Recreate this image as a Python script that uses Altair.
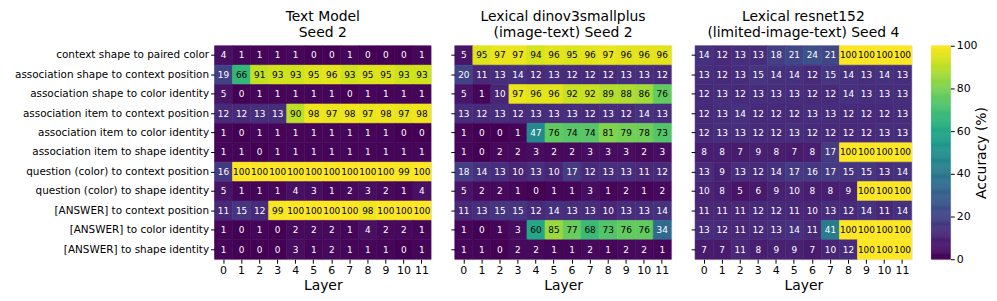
import altair as alt
import pandas as pd

rows = [
    "context shape to paired color",
    "association shape to context position",
    "association shape to color identity",
    "association item to context position",
    "association item to color identity",
    "association item to shape identity",
    "question (color) to context position",
    "question (color) to shape identity",
    "[ANSWER] to context position",
    "[ANSWER] to color identity",
    "[ANSWER] to shape identity",
]
layers = list(range(12))

text_model = [
    [4, 1, 1, 1, 1, 0, 0, 1, 0, 0, 0, 1],
    [19, 66, 91, 93, 93, 95, 96, 93, 95, 95, 93, 93],
    [5, 0, 1, 1, 1, 1, 1, 0, 1, 1, 1, 1],
    [12, 12, 13, 13, 90, 98, 97, 98, 97, 98, 97, 98],
    [1, 0, 1, 1, 1, 1, 1, 1, 1, 1, 0, 0],
    [1, 1, 0, 1, 1, 1, 1, 1, 1, 1, 1, 1],
    [16, 100, 100, 100, 100, 100, 100, 100, 100, 100, 99, 100],
    [5, 1, 1, 1, 4, 3, 1, 2, 3, 2, 1, 4],
    [11, 15, 12, 99, 100, 100, 100, 100, 98, 100, 100, 100],
    [1, 0, 1, 0, 2, 2, 2, 1, 4, 2, 2, 1],
    [1, 0, 0, 0, 3, 1, 2, 1, 1, 1, 0, 1],
]
dinov3 = [
    [5, 95, 97, 97, 94, 96, 95, 96, 97, 96, 96, 96],
    [20, 11, 13, 14, 12, 13, 12, 12, 12, 13, 13, 12],
    [5, 1, 10, 97, 96, 96, 92, 92, 89, 88, 86, 76],
    [13, 12, 13, 12, 13, 13, 13, 12, 13, 12, 14, 13],
    [1, 0, 0, 1, 47, 76, 74, 74, 81, 79, 78, 73],
    [1, 0, 2, 2, 3, 2, 2, 3, 3, 3, 2, 3],
    [18, 14, 13, 10, 13, 10, 17, 12, 13, 13, 11, 12],
    [5, 2, 2, 1, 0, 1, 1, 3, 1, 2, 1, 2],
    [11, 13, 15, 15, 12, 14, 13, 13, 10, 13, 13, 14],
    [1, 0, 1, 3, 60, 85, 77, 68, 73, 76, 76, 34],
    [1, 1, 0, 2, 2, 1, 1, 2, 1, 2, 2, 1],
]
resnet = [
    [14, 12, 13, 13, 18, 21, 24, 21, 100, 100, 100, 100],
    [13, 12, 13, 15, 14, 14, 12, 15, 14, 13, 14, 13],
    [12, 13, 12, 13, 13, 13, 12, 12, 14, 13, 13, 13],
    [12, 13, 14, 12, 12, 12, 13, 13, 12, 12, 12, 13],
    [12, 13, 13, 12, 12, 13, 12, 12, 12, 12, 13, 13],
    [8, 8, 7, 9, 8, 7, 8, 17, 100, 100, 100, 100],
    [13, 9, 13, 12, 14, 17, 16, 17, 15, 15, 13, 14],
    [10, 8, 5, 6, 9, 10, 8, 8, 9, 100, 100, 100],
    [11, 11, 11, 12, 12, 11, 10, 13, 12, 14, 11, 14],
    [13, 12, 11, 12, 13, 14, 11, 41, 100, 100, 100, 100],
    [7, 7, 11, 8, 9, 9, 7, 10, 12, 100, 100, 100],
]

titles = [
    ["Text Model", "Seed 2"],
    ["Lexical dinov3smallplus", "(image-text) Seed 2"],
    ["Lexical resnet152", "(limited-image-text) Seed 4"],
]
colorbar_title = "Accuracy (%)"
colorbar_ticks = [0, 20, 40, 60, 80, 100]
matrices = [text_model, dinov3, resnet]

FONT = "DejaVu Sans"
W, H = 218, 215
COLOR_SCALE = alt.Scale(scheme="viridis", domain=[0, 100])


def make_df(mat):
    recs = []
    for r, row in zip(rows, mat):
        for l, v in zip(layers, row):
            recs.append({"row": r, "layer": l, "value": v})
    return pd.DataFrame(recs)


def panel(mat, title, idx):
    df = make_df(mat)
    base = alt.Chart(df)
    y_axis = alt.Axis(
        title=None,
        labels=(idx == 0),
        ticks=True,
        tickSize=4,
        tickColor="black",
        domain=False,
        labelFontSize=10.5,
        labelColor="black",
        labelFont=FONT,
        labelPadding=2,
        labelLimit=400,
    )
    x_axis = alt.Axis(
        title="Layer",
        labelAngle=0,
        tickSize=4,
        tickColor="black",
        domain=False,
        labelFontSize=11,
        labelColor="black",
        labelFont=FONT,
        labelPadding=1,
        titleFontSize=14,
        titleFont=FONT,
        titleFontWeight="normal",
        titleColor="black",
        titlePadding=3,
    )
    rect = base.mark_rect(strokeWidth=0.6).encode(
        x=alt.X("layer:O", axis=x_axis, sort=layers),
        y=alt.Y("row:N", axis=y_axis, sort=rows),
        color=alt.Color("value:Q", scale=COLOR_SCALE, legend=None),
        stroke=alt.Color("value:Q", scale=COLOR_SCALE, legend=None),
    )
    txt = base.mark_text(fontSize=9, font=FONT).encode(
        x=alt.X("layer:O", sort=layers),
        y=alt.Y("row:N", sort=rows),
        text="value:Q",
        color=alt.condition(
            alt.datum.value > 50, alt.value("black"), alt.value("white")
        ),
    )
    return alt.layer(rect, txt).properties(
        width=W,
        height=H,
        title=alt.TitleParams(
            title, fontSize=14, font=FONT, fontWeight="normal", color="black",
            anchor="middle", offset=6, lineHeight=15.5,
        ),
    )


# colorbar as its own small panel
cb_vals = [i * 0.5 for i in range(200)]
cb_df = pd.DataFrame({"v": cb_vals, "v2": [v + 0.5 for v in cb_vals]})
colorbar = alt.Chart(cb_df).mark_rect(strokeWidth=0.6).encode(
    y=alt.Y(
        "v:Q",
        scale=alt.Scale(domain=[0, 100], nice=False, zero=False),
        axis=alt.Axis(
            orient="right",
            values=colorbar_ticks,
            tickSize=4,
            tickColor="black",
            domain=False,
            grid=False,
            labelFontSize=11,
            labelFont=FONT,
            labelColor="black",
            labelPadding=2,
            title=colorbar_title,
            titleAngle=270,
            titleFontSize=14,
            titleFont=FONT,
            titleFontWeight="normal",
            titleColor="black",
            titlePadding=11,
        ),
    ),
    y2="v2:Q",
    color=alt.Color("v:Q", scale=COLOR_SCALE, legend=None),
    stroke=alt.Color("v:Q", scale=COLOR_SCALE, legend=None),
).properties(width=19, height=H)

charts = [panel(m, t, i) for i, (m, t) in enumerate(zip(matrices, titles))]
chart = (
    alt.hconcat(alt.hconcat(*charts, spacing=18), colorbar, spacing=18)
    .configure_view(stroke="black", strokeWidth=1)
    .configure(padding={"left": 5, "top": 0, "right": 0, "bottom": 0})
)

chart.save("out.html", embed_options={"renderer": "svg", "actions": False})
